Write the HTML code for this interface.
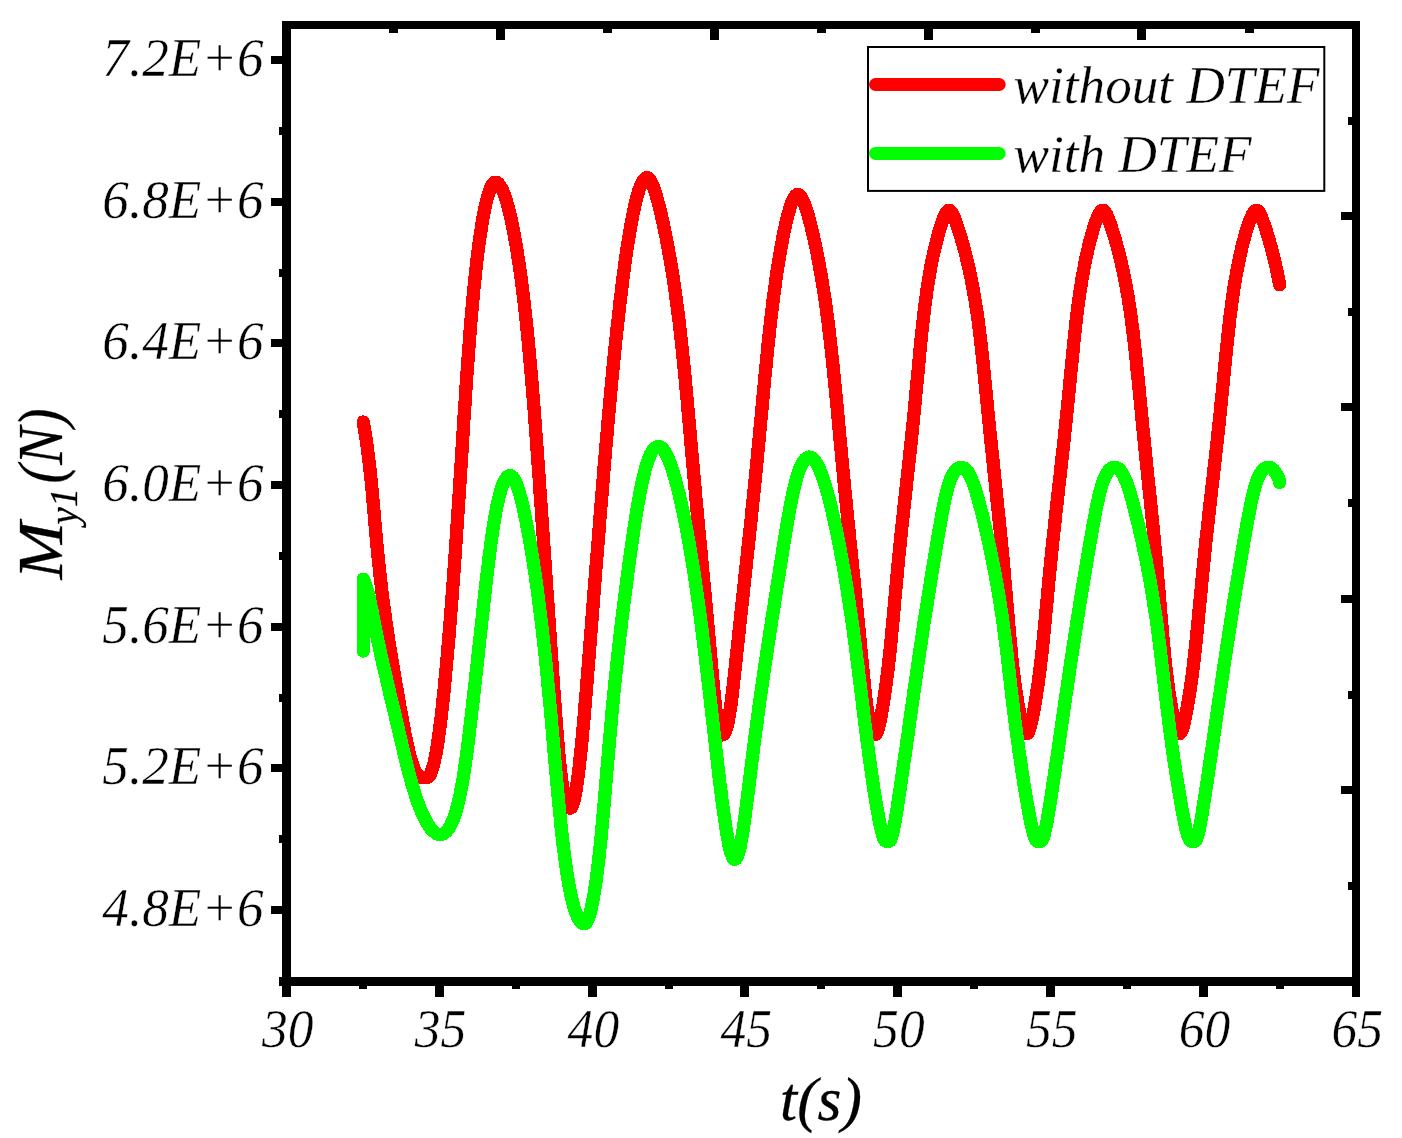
<!DOCTYPE html>
<html lang="en"><head><meta charset="utf-8"><title>My1(N) vs t(s): without DTEF / with DTEF</title>
<style>
html,body{margin:0;padding:0;background:#fff;}
body{width:1402px;height:1138px;overflow:hidden;font-family:"Liberation Serif",serif;}
svg{display:block;}
</style></head><body>
<svg width="1402" height="1138" viewBox="0 0 1402 1138">
<rect width="1402" height="1138" fill="#fff"/>
<rect x="282" y="21" width="1078" height="965" fill="none"/>
<g fill="#000" shape-rendering="crispEdges">
<rect x="282" y="21" width="1078" height="8"/>
<rect x="279" y="977" width="1081" height="9"/>
<rect x="282" y="21" width="9" height="976"/>
<rect x="1352" y="21" width="8" height="976"/>
<rect x="271" y="56.0" width="12" height="8"/>
<rect x="271" y="197.7" width="12" height="8"/>
<rect x="271" y="339.3" width="12" height="8"/>
<rect x="271" y="481.0" width="12" height="8"/>
<rect x="271" y="622.7" width="12" height="8"/>
<rect x="271" y="764.3" width="12" height="8"/>
<rect x="271" y="906.0" width="12" height="8"/>
<rect x="279" y="126.8" width="4" height="8"/>
<rect x="279" y="268.5" width="4" height="8"/>
<rect x="279" y="410.2" width="4" height="8"/>
<rect x="279" y="551.8" width="4" height="8"/>
<rect x="279" y="693.5" width="4" height="8"/>
<rect x="279" y="835.2" width="4" height="8"/>
<rect x="434.8" y="985" width="9" height="12"/>
<rect x="587.6" y="985" width="9" height="12"/>
<rect x="740.4" y="985" width="9" height="12"/>
<rect x="893.1" y="985" width="9" height="12"/>
<rect x="1045.9" y="985" width="9" height="12"/>
<rect x="1198.7" y="985" width="9" height="12"/>
<rect x="358.9" y="985" width="8" height="4"/>
<rect x="511.7" y="985" width="8" height="4"/>
<rect x="664.5" y="985" width="8" height="4"/>
<rect x="817.2" y="985" width="8" height="4"/>
<rect x="970.0" y="985" width="8" height="4"/>
<rect x="1122.8" y="985" width="8" height="4"/>
<rect x="1275.6" y="985" width="8" height="4"/>
<rect x="495.5" y="28" width="9" height="11.5"/>
<rect x="709.7" y="28" width="9" height="11.5"/>
<rect x="923.6" y="28" width="9" height="11.5"/>
<rect x="1137.3" y="28" width="9" height="11.5"/>
<rect x="388.8" y="28" width="9" height="5"/>
<rect x="602.8" y="28" width="9" height="5"/>
<rect x="817.0" y="28" width="9" height="5"/>
<rect x="1030.5" y="28" width="9" height="5"/>
<rect x="1244.5" y="28" width="9" height="5"/>
<rect x="1341" y="212.0" width="12" height="8"/>
<rect x="1341" y="403.4" width="12" height="8"/>
<rect x="1341" y="594.5" width="12" height="8"/>
<rect x="1341" y="786.0" width="12" height="8"/>
<rect x="1348" y="117.0" width="5" height="8"/>
<rect x="1348" y="307.8" width="5" height="8"/>
<rect x="1348" y="499.0" width="5" height="8"/>
<rect x="1348" y="690.5" width="5" height="8"/>
<rect x="1348" y="881.9" width="5" height="8"/>
</g>
<path d="M363.2,422.0 L363.3,422.6 L363.9,425.8 L364.5,429.3 L365.1,433.0 L365.7,436.8 L366.3,440.9 L366.9,445.1 L367.5,449.5 L368.1,454.1 L368.7,458.9 L369.3,463.8 L369.9,468.8 L370.4,474.1 L371.0,479.4 L371.5,484.9 L372.1,490.6 L372.6,496.3 L373.1,502.2 L373.6,508.1 L374.2,514.2 L374.7,520.4 L375.3,526.6 L375.8,533.0 L376.4,539.4 L377.0,545.8 L377.6,552.3 L378.3,558.9 L379.0,565.5 L379.7,572.1 L380.4,578.8 L381.2,585.4 L382.0,592.1 L382.8,598.7 L383.7,605.4 L384.6,612.0 L385.5,618.6 L386.5,625.2 L387.4,631.7 L388.4,638.1 L389.4,644.5 L390.4,650.9 L391.5,657.1 L392.5,663.3 L393.5,669.4 L394.5,675.3 L395.5,681.2 L396.5,686.9 L397.5,692.6 L398.5,698.1 L399.4,703.4 L400.3,708.7 L401.3,713.7 L402.2,718.6 L403.0,723.4 L403.9,728.0 L404.7,732.4 L405.6,736.6 L406.4,740.7 L407.2,744.5 L408.1,748.2 L408.9,751.7 L409.7,754.9 L410.5,758.0 L411.3,760.8 L412.2,763.4 L413.0,765.9 L413.9,768.1 L414.7,770.0 L415.6,771.8 L416.5,773.3 L417.4,774.6 L418.3,775.6 L419.2,776.4 L420.1,777.0 L421.1,777.4 L422.0,777.5 L427.0,777.5 L427.8,777.3 L428.6,776.8 L429.4,775.8 L430.2,774.5 L431.0,772.9 L431.7,770.8 L432.5,768.5 L433.3,765.7 L434.1,762.6 L434.8,759.1 L435.6,755.3 L436.4,751.2 L437.1,746.7 L437.9,741.9 L438.6,736.7 L439.4,731.3 L440.1,725.5 L440.9,719.4 L441.6,713.0 L442.4,706.4 L443.1,699.4 L443.9,692.2 L444.6,684.7 L445.3,676.9 L446.1,668.9 L446.8,660.7 L447.6,652.2 L448.3,643.6 L449.1,634.7 L449.8,625.6 L450.5,616.4 L451.3,607.0 L452.0,597.4 L452.7,587.7 L453.5,577.8 L454.2,567.8 L454.9,557.7 L455.6,547.5 L456.3,537.3 L457.0,526.9 L457.7,516.5 L458.4,506.1 L459.1,495.6 L459.8,485.1 L460.4,474.6 L461.1,464.1 L461.8,453.6 L462.4,443.2 L463.1,432.8 L463.7,422.4 L464.4,412.2 L465.1,402.0 L465.7,391.9 L466.4,381.9 L467.1,372.0 L467.8,362.3 L468.5,352.7 L469.2,343.3 L469.9,334.1 L470.6,325.0 L471.4,316.1 L472.1,307.5 L472.9,299.0 L473.7,290.8 L474.5,282.8 L475.3,275.0 L476.1,267.5 L476.9,260.3 L477.8,253.3 L478.6,246.7 L479.5,240.3 L480.4,234.2 L481.3,228.4 L482.1,223.0 L483.0,217.8 L483.9,213.0 L484.8,208.5 L485.7,204.4 L486.6,200.6 L487.5,197.1 L488.4,194.0 L489.3,191.2 L490.1,188.9 L491.0,186.8 L491.9,185.2 L492.8,183.9 L493.6,182.9 L494.5,182.4 L495.4,182.2 L495.4,182.2 L496.5,182.4 L497.6,183.0 L498.7,184.0 L499.8,185.3 L500.9,187.1 L502.1,189.2 L503.2,191.7 L504.3,194.6 L505.4,197.9 L506.6,201.5 L507.7,205.5 L508.9,209.9 L510.0,214.6 L511.2,219.7 L512.3,225.1 L513.5,230.8 L514.6,236.9 L515.8,243.3 L516.9,250.0 L518.0,257.0 L519.1,264.3 L520.2,271.9 L521.3,279.8 L522.4,288.0 L523.4,296.4 L524.4,305.0 L525.4,313.9 L526.4,323.1 L527.4,332.4 L528.3,341.9 L529.2,351.7 L530.1,361.6 L531.0,371.6 L531.9,381.9 L532.7,392.2 L533.6,402.7 L534.4,413.3 L535.2,424.1 L536.0,434.9 L536.8,445.7 L537.6,456.7 L538.4,467.7 L539.2,478.7 L539.9,489.7 L540.7,500.8 L541.5,511.8 L542.2,522.8 L543.0,533.8 L543.8,544.8 L544.5,555.6 L545.3,566.4 L546.0,577.2 L546.7,587.8 L547.5,598.3 L548.2,608.6 L548.9,618.9 L549.6,628.9 L550.3,638.8 L551.0,648.6 L551.6,658.1 L552.3,667.4 L552.9,676.6 L553.5,685.5 L554.2,694.1 L554.8,702.5 L555.4,710.7 L556.0,718.6 L556.5,726.2 L557.1,733.5 L557.7,740.5 L558.3,747.2 L558.8,753.6 L559.4,759.7 L560.0,765.4 L560.6,770.8 L561.2,775.9 L561.8,780.6 L562.4,785.0 L563.1,789.0 L563.7,792.6 L564.4,795.9 L565.1,798.8 L565.7,801.3 L566.4,803.4 L567.1,805.2 L567.8,806.5 L568.6,807.5 L569.3,808.1 L570.0,808.3 L570.0,808.3 L570.6,808.1 L571.3,807.5 L571.9,806.5 L572.5,805.2 L573.1,803.4 L573.8,801.3 L574.4,798.7 L575.0,795.8 L575.6,792.5 L576.3,788.9 L576.9,784.8 L577.5,780.4 L578.1,775.7 L578.8,770.6 L579.4,765.1 L580.0,759.3 L580.7,753.2 L581.3,746.8 L582.0,740.0 L582.6,732.9 L583.3,725.6 L584.0,717.9 L584.7,710.0 L585.3,701.8 L586.1,693.3 L586.8,684.6 L587.5,675.6 L588.2,666.4 L589.0,657.0 L589.7,647.4 L590.5,637.6 L591.3,627.7 L592.1,617.5 L592.9,607.2 L593.7,596.8 L594.5,586.2 L595.4,575.5 L596.2,564.7 L597.1,553.8 L598.0,542.9 L598.9,531.9 L599.7,520.8 L600.6,509.7 L601.6,498.6 L602.5,487.4 L603.4,476.3 L604.3,465.2 L605.3,454.1 L606.2,443.1 L607.2,432.2 L608.1,421.3 L609.1,410.5 L610.0,399.8 L611.0,389.2 L612.0,378.8 L613.0,368.5 L614.0,358.3 L615.0,348.4 L616.0,338.6 L617.0,329.0 L618.1,319.6 L619.1,310.4 L620.1,301.4 L621.2,292.7 L622.2,284.2 L623.2,276.0 L624.3,268.1 L625.3,260.4 L626.4,253.1 L627.4,246.0 L628.5,239.2 L629.6,232.8 L630.6,226.7 L631.7,220.9 L632.7,215.4 L633.8,210.3 L634.8,205.6 L635.8,201.2 L636.9,197.1 L637.9,193.5 L638.9,190.2 L640.0,187.3 L641.0,184.7 L642.0,182.6 L643.0,180.8 L644.1,179.5 L645.1,178.5 L646.1,177.9 L647.1,177.7 L647.1,177.7 L647.9,177.9 L648.7,178.4 L649.6,179.3 L650.4,180.5 L651.3,182.0 L652.2,183.9 L653.1,186.2 L654.0,188.7 L655.0,191.6 L656.0,194.9 L657.1,198.4 L658.1,202.3 L659.2,206.5 L660.3,211.0 L661.5,215.8 L662.6,221.0 L663.8,226.4 L665.0,232.1 L666.2,238.0 L667.4,244.3 L668.6,250.8 L669.8,257.6 L671.0,264.6 L672.2,271.8 L673.4,279.3 L674.5,287.0 L675.6,294.9 L676.7,303.1 L677.8,311.4 L678.9,319.8 L679.9,328.5 L680.9,337.3 L681.9,346.3 L682.8,355.4 L683.8,364.6 L684.7,374.0 L685.6,383.4 L686.5,392.9 L687.4,402.6 L688.2,412.2 L689.1,422.0 L690.0,431.7 L690.8,441.6 L691.7,451.4 L692.6,461.2 L693.5,471.0 L694.4,480.9 L695.2,490.6 L696.1,500.4 L697.0,510.0 L697.9,519.7 L698.8,529.2 L699.7,538.6 L700.6,548.0 L701.5,557.2 L702.3,566.3 L703.2,575.3 L704.0,584.1 L704.9,592.8 L705.7,601.2 L706.4,609.5 L707.2,617.7 L707.9,625.6 L708.6,633.3 L709.3,640.8 L709.9,648.0 L710.6,655.0 L711.2,661.8 L711.8,668.3 L712.3,674.6 L712.9,680.5 L713.4,686.2 L714.0,691.6 L714.5,696.8 L715.0,701.6 L715.5,706.1 L716.0,710.3 L716.5,714.2 L717.1,717.7 L717.6,721.0 L718.1,723.9 L718.6,726.4 L719.2,728.7 L719.7,730.6 L720.3,732.1 L720.8,733.3 L721.4,734.2 L721.9,734.7 L722.5,734.9 L722.5,734.9 L723.1,734.7 L723.8,734.2 L724.4,733.4 L725.1,732.2 L725.7,730.7 L726.3,728.9 L726.9,726.7 L727.5,724.2 L728.2,721.4 L728.8,718.2 L729.4,714.8 L730.0,711.0 L730.6,706.9 L731.2,702.6 L731.8,697.9 L732.4,692.9 L733.0,687.7 L733.6,682.2 L734.3,676.4 L734.9,670.3 L735.6,664.0 L736.3,657.4 L737.0,650.6 L737.8,643.6 L738.6,636.3 L739.3,628.9 L740.2,621.2 L741.0,613.3 L741.9,605.2 L742.8,597.0 L743.7,588.6 L744.6,580.1 L745.5,571.4 L746.5,562.5 L747.4,553.6 L748.4,544.5 L749.4,535.4 L750.4,526.1 L751.4,516.8 L752.3,507.4 L753.3,498.0 L754.3,488.5 L755.2,479.0 L756.2,469.4 L757.1,459.9 L758.0,450.3 L758.9,440.8 L759.8,431.3 L760.7,421.9 L761.6,412.5 L762.4,403.2 L763.3,393.9 L764.2,384.8 L765.0,375.7 L765.9,366.8 L766.8,357.9 L767.6,349.2 L768.5,340.7 L769.4,332.3 L770.3,324.1 L771.2,316.0 L772.2,308.1 L773.1,300.4 L774.1,293.0 L775.1,285.7 L776.0,278.7 L777.0,271.9 L778.0,265.3 L779.1,259.0 L780.1,252.9 L781.1,247.1 L782.1,241.6 L783.1,236.4 L784.1,231.4 L785.1,226.7 L786.1,222.4 L787.1,218.3 L788.1,214.5 L789.0,211.1 L790.0,207.9 L790.9,205.1 L791.8,202.6 L792.7,200.4 L793.6,198.6 L794.5,197.1 L795.3,195.9 L796.2,195.1 L797.0,194.6 L797.9,194.4 L797.9,194.4 L798.7,194.6 L799.6,195.1 L800.4,195.9 L801.3,197.1 L802.1,198.6 L803.0,200.4 L803.9,202.6 L804.9,205.1 L805.9,207.9 L806.9,211.1 L807.9,214.5 L809.0,218.3 L810.0,222.3 L811.2,226.7 L812.3,231.4 L813.4,236.3 L814.6,241.6 L815.8,247.1 L817.0,252.9 L818.1,259.0 L819.3,265.3 L820.5,271.8 L821.7,278.6 L822.8,285.7 L824.0,292.9 L825.1,300.4 L826.2,308.1 L827.2,315.9 L828.3,324.0 L829.3,332.2 L830.3,340.6 L831.2,349.2 L832.2,357.8 L833.1,366.7 L834.0,375.6 L834.9,384.7 L835.8,393.8 L836.7,403.1 L837.6,412.4 L838.5,421.8 L839.3,431.2 L840.2,440.7 L841.1,450.2 L842.0,459.7 L842.9,469.3 L843.8,478.8 L844.7,488.3 L845.7,497.8 L846.6,507.2 L847.5,516.6 L848.5,525.9 L849.4,535.2 L850.3,544.3 L851.3,553.4 L852.2,562.3 L853.1,571.2 L854.0,579.8 L854.9,588.4 L855.7,596.8 L856.5,605.0 L857.3,613.1 L858.1,620.9 L858.9,628.6 L859.6,636.1 L860.3,643.3 L861.0,650.4 L861.6,657.2 L862.3,663.7 L862.9,670.0 L863.5,676.1 L864.1,681.9 L864.6,687.4 L865.2,692.7 L865.8,697.6 L866.4,702.3 L866.9,706.7 L867.5,710.7 L868.1,714.5 L868.7,717.9 L869.3,721.1 L870.0,723.9 L870.6,726.4 L871.3,728.6 L871.9,730.4 L872.6,731.9 L873.3,733.1 L874.0,733.9 L874.7,734.4 L875.4,734.6 L875.4,734.6 L875.8,734.4 L876.3,733.9 L876.8,733.1 L877.2,732.0 L877.7,730.5 L878.3,728.7 L878.8,726.6 L879.4,724.2 L880.0,721.5 L880.6,718.4 L881.2,715.1 L881.9,711.4 L882.6,707.5 L883.3,703.2 L884.0,698.7 L884.7,693.9 L885.5,688.8 L886.2,683.4 L886.9,677.8 L887.7,671.9 L888.4,665.8 L889.1,659.4 L889.8,652.8 L890.5,646.0 L891.2,639.0 L891.9,631.7 L892.6,624.3 L893.3,616.6 L894.0,608.8 L894.7,600.8 L895.5,592.7 L896.2,584.4 L897.0,575.9 L897.8,567.4 L898.6,558.7 L899.5,549.9 L900.4,541.0 L901.3,532.0 L902.3,523.0 L903.3,513.9 L904.2,504.7 L905.3,495.5 L906.3,486.3 L907.3,477.0 L908.3,467.8 L909.3,458.5 L910.3,449.3 L911.3,440.1 L912.2,430.9 L913.2,421.8 L914.1,412.8 L914.9,403.8 L915.8,394.9 L916.6,386.1 L917.5,377.4 L918.3,368.9 L919.1,360.4 L919.8,352.1 L920.6,344.0 L921.4,336.0 L922.3,328.2 L923.1,320.5 L924.0,313.1 L924.9,305.8 L925.8,298.8 L926.7,292.0 L927.7,285.4 L928.7,279.0 L929.8,272.9 L930.8,267.0 L931.9,261.4 L933.0,256.0 L934.2,250.9 L935.3,246.1 L936.4,241.6 L937.5,237.3 L938.6,233.4 L939.6,229.7 L940.6,226.4 L941.6,223.3 L942.6,220.6 L943.5,218.2 L944.4,216.1 L945.2,214.3 L946.0,212.8 L946.8,211.7 L947.6,210.9 L948.4,210.4 L949.1,210.2 L949.1,210.2 L949.8,210.4 L950.5,210.9 L951.2,211.7 L951.9,212.8 L952.7,214.3 L953.6,216.0 L954.4,218.1 L955.4,220.6 L956.4,223.3 L957.4,226.3 L958.5,229.7 L959.7,233.3 L960.9,237.3 L962.1,241.5 L963.4,246.0 L964.7,250.8 L966.0,255.9 L967.3,261.3 L968.6,266.9 L969.9,272.8 L971.2,278.9 L972.4,285.2 L973.6,291.8 L974.8,298.6 L975.9,305.7 L977.0,312.9 L978.1,320.3 L979.1,328.0 L980.0,335.8 L981.0,343.7 L981.9,351.9 L982.8,360.1 L983.7,368.6 L984.5,377.1 L985.4,385.8 L986.3,394.6 L987.1,403.4 L988.0,412.4 L988.9,421.4 L989.8,430.5 L990.8,439.7 L991.7,448.8 L992.7,458.0 L993.6,467.3 L994.6,476.5 L995.6,485.8 L996.5,495.0 L997.5,504.1 L998.4,513.3 L999.4,522.4 L1000.3,531.4 L1001.2,540.4 L1002.0,549.2 L1002.9,558.0 L1003.7,566.7 L1004.4,575.2 L1005.2,583.7 L1005.9,591.9 L1006.6,600.1 L1007.3,608.0 L1008.0,615.8 L1008.6,623.5 L1009.3,630.9 L1009.9,638.1 L1010.6,645.2 L1011.3,652.0 L1011.9,658.6 L1012.6,664.9 L1013.3,671.0 L1014.0,676.9 L1014.8,682.5 L1015.5,687.9 L1016.2,693.0 L1017.0,697.8 L1017.7,702.3 L1018.4,706.5 L1019.2,710.5 L1019.9,714.1 L1020.6,717.5 L1021.3,720.5 L1022.0,723.2 L1022.7,725.7 L1023.3,727.8 L1024.0,729.5 L1024.6,731.0 L1025.2,732.1 L1025.8,732.9 L1026.4,733.4 L1027.0,733.6 L1027.0,733.6 L1027.5,733.4 L1028.0,732.9 L1028.4,732.1 L1028.9,731.0 L1029.5,729.5 L1030.0,727.8 L1030.6,725.7 L1031.2,723.2 L1031.8,720.5 L1032.4,717.5 L1033.1,714.1 L1033.8,710.5 L1034.5,706.5 L1035.3,702.3 L1036.0,697.8 L1036.7,693.0 L1037.5,687.9 L1038.3,682.5 L1039.0,676.9 L1039.8,671.0 L1040.5,664.9 L1041.2,658.6 L1042.0,652.0 L1042.7,645.2 L1043.4,638.1 L1044.1,630.9 L1044.9,623.5 L1045.6,615.8 L1046.3,608.0 L1047.1,600.1 L1047.8,591.9 L1048.6,583.7 L1049.4,575.2 L1050.2,566.7 L1051.1,558.0 L1052.0,549.2 L1052.9,540.4 L1053.9,531.4 L1054.9,522.4 L1055.8,513.3 L1056.9,504.1 L1057.9,495.0 L1058.9,485.8 L1060.0,476.5 L1061.0,467.3 L1062.0,458.0 L1063.1,448.8 L1064.1,439.7 L1065.0,430.5 L1066.0,421.4 L1066.9,412.4 L1067.8,403.4 L1068.7,394.6 L1069.6,385.8 L1070.4,377.1 L1071.2,368.6 L1072.1,360.1 L1072.9,351.9 L1073.7,343.7 L1074.5,335.8 L1075.4,328.0 L1076.2,320.3 L1077.1,312.9 L1078.0,305.7 L1079.0,298.6 L1080.0,291.8 L1081.0,285.2 L1082.0,278.9 L1083.1,272.8 L1084.2,266.9 L1085.3,261.3 L1086.4,255.9 L1087.6,250.8 L1088.7,246.0 L1089.8,241.5 L1091.0,237.3 L1092.1,233.3 L1093.1,229.7 L1094.2,226.3 L1095.2,223.3 L1096.2,220.6 L1097.1,218.1 L1098.0,216.0 L1098.9,214.3 L1099.7,212.8 L1100.6,211.7 L1101.3,210.9 L1102.1,210.4 L1102.9,210.2 L1102.9,210.2 L1103.6,210.4 L1104.3,210.9 L1105.0,211.7 L1105.7,212.8 L1106.5,214.3 L1107.3,216.0 L1108.1,218.1 L1109.1,220.6 L1110.1,223.3 L1111.1,226.3 L1112.2,229.7 L1113.3,233.3 L1114.5,237.3 L1115.8,241.5 L1117.0,246.0 L1118.3,250.8 L1119.6,255.9 L1120.9,261.3 L1122.2,266.9 L1123.5,272.8 L1124.7,278.9 L1125.9,285.2 L1127.1,291.8 L1128.3,298.6 L1129.4,305.7 L1130.5,312.9 L1131.5,320.3 L1132.5,328.0 L1133.5,335.8 L1134.4,343.7 L1135.3,351.9 L1136.2,360.1 L1137.0,368.6 L1137.9,377.1 L1138.8,385.8 L1139.6,394.6 L1140.5,403.4 L1141.4,412.4 L1142.2,421.4 L1143.1,430.5 L1144.1,439.7 L1145.0,448.8 L1145.9,458.0 L1146.9,467.3 L1147.8,476.5 L1148.8,485.8 L1149.8,495.0 L1150.7,504.1 L1151.6,513.3 L1152.6,522.4 L1153.5,531.4 L1154.3,540.4 L1155.2,549.2 L1156.0,558.0 L1156.8,566.7 L1157.5,575.2 L1158.3,583.7 L1159.0,591.9 L1159.7,600.1 L1160.3,608.0 L1161.0,615.8 L1161.7,623.5 L1162.3,630.9 L1162.9,638.1 L1163.6,645.2 L1164.3,652.0 L1164.9,658.6 L1165.6,664.9 L1166.3,671.0 L1167.0,676.9 L1167.7,682.5 L1168.4,687.9 L1169.1,693.0 L1169.9,697.8 L1170.6,702.3 L1171.3,706.5 L1172.0,710.5 L1172.7,714.1 L1173.4,717.5 L1174.1,720.5 L1174.8,723.2 L1175.5,725.7 L1176.1,727.8 L1176.7,729.5 L1177.3,731.0 L1177.9,732.1 L1178.5,732.9 L1179.1,733.4 L1179.7,733.6 L1179.7,733.6 L1180.2,733.4 L1180.7,732.9 L1181.2,732.1 L1181.7,731.0 L1182.2,729.5 L1182.8,727.8 L1183.4,725.7 L1184.0,723.2 L1184.6,720.5 L1185.3,717.5 L1185.9,714.1 L1186.6,710.5 L1187.4,706.5 L1188.1,702.3 L1188.9,697.8 L1189.6,693.0 L1190.4,687.9 L1191.2,682.5 L1191.9,676.9 L1192.7,671.0 L1193.4,664.9 L1194.2,658.6 L1194.9,652.0 L1195.7,645.2 L1196.4,638.1 L1197.1,630.9 L1197.9,623.5 L1198.6,615.8 L1199.3,608.0 L1200.1,600.1 L1200.9,591.9 L1201.7,583.7 L1202.5,575.2 L1203.3,566.7 L1204.2,558.0 L1205.1,549.2 L1206.0,540.4 L1207.0,531.4 L1208.0,522.4 L1209.0,513.3 L1210.0,504.1 L1211.1,495.0 L1212.1,485.8 L1213.2,476.5 L1214.2,467.3 L1215.3,458.0 L1216.3,448.8 L1217.3,439.7 L1218.3,430.5 L1219.3,421.4 L1220.2,412.4 L1221.1,403.4 L1222.0,394.6 L1222.9,385.8 L1223.7,377.1 L1224.6,368.6 L1225.4,360.1 L1226.2,351.9 L1227.1,343.7 L1227.9,335.8 L1228.8,328.0 L1229.6,320.3 L1230.5,312.9 L1231.5,305.7 L1232.4,298.6 L1233.4,291.8 L1234.4,285.2 L1235.5,278.9 L1236.6,272.8 L1237.7,266.9 L1238.8,261.3 L1239.9,255.9 L1241.1,250.8 L1242.2,246.0 L1243.4,241.5 L1244.5,237.3 L1245.6,233.3 L1246.7,229.7 L1247.8,226.3 L1248.8,223.3 L1249.8,220.6 L1250.7,218.1 L1251.7,216.0 L1252.5,214.3 L1253.4,212.8 L1254.2,211.7 L1255.0,210.9 L1255.8,210.4 L1256.6,210.2 L1256.6,210.2 L1257.3,210.4 L1258.0,210.9 L1258.7,211.7 L1259.4,212.8 L1260.2,214.3 L1261.0,216.0 L1261.9,218.1 L1262.8,220.6 L1263.8,223.3 L1264.9,226.3 L1266.0,229.7 L1267.1,233.3 L1268.3,237.3 L1269.5,241.5 L1270.8,246.0 L1272.1,250.8 L1273.4,255.9 L1274.7,261.3 L1276.0,266.9 L1277.3,272.8 L1278.6,278.9 L1279.6,284.8" fill="none" stroke="#ff0000" stroke-width="13.3" stroke-linejoin="round" stroke-linecap="round" shape-rendering="crispEdges"/>
<path d="M363.2,651.0 L363.2,579.2 L363.5,579.8 L364.3,581.7 L365.1,583.7 L365.9,585.8 L366.7,588.1 L367.4,590.5 L368.1,593.1 L368.8,595.8 L369.4,598.6 L370.1,601.6 L370.7,604.7 L371.4,607.9 L372.1,611.2 L372.7,614.7 L373.4,618.2 L374.1,621.9 L374.9,625.7 L375.6,629.5 L376.4,633.4 L377.2,637.5 L378.1,641.6 L379.0,645.8 L379.9,650.0 L380.8,654.3 L381.8,658.7 L382.8,663.2 L383.8,667.6 L384.9,672.2 L386.0,676.7 L387.0,681.3 L388.1,686.0 L389.2,690.6 L390.3,695.3 L391.4,699.9 L392.5,704.6 L393.7,709.2 L394.8,713.9 L395.8,718.5 L396.9,723.2 L398.0,727.8 L399.1,732.3 L400.1,736.9 L401.2,741.3 L402.2,745.8 L403.3,750.2 L404.3,754.5 L405.3,758.7 L406.4,762.9 L407.4,767.0 L408.4,771.1 L409.5,775.0 L410.5,778.8 L411.6,782.6 L412.6,786.3 L413.7,789.8 L414.8,793.3 L415.8,796.6 L416.9,799.8 L418.0,802.9 L419.1,805.9 L420.2,808.7 L421.4,811.4 L422.5,814.0 L423.6,816.4 L424.7,818.7 L425.9,820.8 L427.0,822.8 L428.1,824.7 L429.2,826.3 L430.3,827.9 L431.5,829.3 L432.6,830.5 L433.7,831.5 L434.8,832.4 L435.9,833.2 L436.9,833.8 L438.0,834.2 L439.1,834.4 L440.2,834.5 L440.2,834.5 L441.4,834.4 L442.6,834.1 L443.7,833.5 L444.9,832.7 L446.0,831.7 L447.2,830.5 L448.3,829.0 L449.4,827.4 L450.5,825.5 L451.5,823.4 L452.6,821.1 L453.6,818.6 L454.6,815.9 L455.5,813.0 L456.4,809.9 L457.3,806.6 L458.2,803.1 L459.1,799.5 L459.9,795.6 L460.7,791.6 L461.5,787.4 L462.3,783.0 L463.1,778.5 L463.8,773.8 L464.5,769.0 L465.3,764.1 L466.0,759.0 L466.7,753.7 L467.4,748.4 L468.1,742.9 L468.8,737.3 L469.5,731.7 L470.1,725.9 L470.8,720.0 L471.5,714.1 L472.2,708.1 L472.9,702.0 L473.6,695.8 L474.3,689.6 L475.0,683.4 L475.7,677.1 L476.4,670.8 L477.1,664.5 L477.8,658.2 L478.4,651.8 L479.1,645.5 L479.8,639.2 L480.5,632.9 L481.2,626.6 L481.9,620.4 L482.6,614.2 L483.2,608.0 L483.9,601.9 L484.6,595.9 L485.2,590.0 L485.9,584.1 L486.6,578.3 L487.2,572.7 L487.9,567.1 L488.6,561.6 L489.2,556.3 L489.9,551.0 L490.6,545.9 L491.2,541.0 L491.9,536.2 L492.6,531.5 L493.3,527.0 L494.0,522.6 L494.7,518.4 L495.4,514.4 L496.1,510.5 L496.8,506.9 L497.5,503.4 L498.3,500.1 L499.0,497.0 L499.8,494.1 L500.5,491.4 L501.3,488.9 L502.1,486.6 L502.8,484.5 L503.6,482.6 L504.4,481.0 L505.2,479.5 L506.0,478.3 L506.8,477.3 L507.6,476.5 L508.4,475.9 L509.2,475.6 L510.0,475.5 L510.0,475.5 L510.8,475.6 L511.6,476.1 L512.4,476.8 L513.3,477.7 L514.1,479.0 L514.9,480.5 L515.8,482.3 L516.6,484.4 L517.5,486.7 L518.3,489.3 L519.2,492.2 L520.1,495.3 L521.0,498.7 L521.9,502.3 L522.9,506.2 L523.8,510.3 L524.7,514.7 L525.7,519.2 L526.6,524.1 L527.6,529.1 L528.6,534.3 L529.5,539.8 L530.5,545.4 L531.5,551.2 L532.5,557.3 L533.4,563.5 L534.4,569.8 L535.4,576.4 L536.3,583.0 L537.3,589.9 L538.2,596.8 L539.1,603.9 L540.0,611.1 L540.9,618.5 L541.8,625.9 L542.7,633.4 L543.5,641.0 L544.4,648.7 L545.2,656.4 L546.0,664.2 L546.8,672.0 L547.6,679.9 L548.3,687.8 L549.1,695.7 L549.8,703.6 L550.6,711.5 L551.3,719.4 L552.0,727.3 L552.7,735.1 L553.4,742.9 L554.0,750.6 L554.7,758.3 L555.4,765.9 L556.0,773.4 L556.7,780.8 L557.4,788.2 L558.0,795.4 L558.7,802.5 L559.4,809.4 L560.1,816.3 L560.7,822.9 L561.4,829.5 L562.1,835.8 L562.8,842.0 L563.5,848.1 L564.3,853.9 L565.0,859.5 L565.8,865.0 L566.5,870.2 L567.3,875.2 L568.1,880.1 L568.9,884.6 L569.7,889.0 L570.5,893.1 L571.4,897.0 L572.2,900.6 L573.1,904.0 L574.0,907.1 L574.9,910.0 L575.8,912.6 L576.7,914.9 L577.6,917.0 L578.6,918.8 L579.5,920.3 L580.5,921.6 L581.4,922.5 L582.4,923.2 L583.3,923.7 L584.3,923.8 L584.3,923.8 L585.0,923.7 L585.6,923.2 L586.3,922.5 L587.0,921.4 L587.7,920.1 L588.3,918.5 L589.0,916.6 L589.7,914.3 L590.4,911.9 L591.1,909.1 L591.8,906.0 L592.4,902.7 L593.1,899.1 L593.8,895.2 L594.5,891.1 L595.2,886.7 L595.9,882.1 L596.5,877.2 L597.2,872.1 L597.9,866.8 L598.5,861.2 L599.2,855.4 L599.8,849.4 L600.5,843.2 L601.1,836.8 L601.7,830.2 L602.4,823.4 L603.0,816.4 L603.6,809.3 L604.3,802.0 L604.9,794.6 L605.5,787.1 L606.2,779.4 L606.8,771.6 L607.5,763.7 L608.2,755.7 L608.9,747.6 L609.6,739.4 L610.3,731.2 L611.1,722.9 L611.8,714.6 L612.6,706.2 L613.4,697.8 L614.2,689.4 L615.1,680.9 L616.0,672.5 L616.9,664.1 L617.8,655.7 L618.7,647.4 L619.6,639.1 L620.6,630.9 L621.5,622.7 L622.5,614.6 L623.5,606.6 L624.5,598.7 L625.5,590.9 L626.5,583.2 L627.4,575.7 L628.4,568.3 L629.4,561.0 L630.4,553.9 L631.4,546.9 L632.3,540.1 L633.3,533.5 L634.2,527.1 L635.2,520.9 L636.1,514.9 L637.1,509.1 L638.0,503.5 L639.0,498.2 L639.9,493.1 L640.9,488.2 L641.8,483.6 L642.8,479.2 L643.8,475.1 L644.7,471.2 L645.7,467.6 L646.7,464.3 L647.7,461.2 L648.8,458.4 L649.8,456.0 L650.8,453.7 L651.9,451.8 L653.0,450.2 L654.0,448.9 L655.1,447.8 L656.2,447.1 L657.3,446.6 L658.4,446.5 L658.4,446.5 L659.4,446.6 L660.4,447.0 L661.4,447.7 L662.4,448.6 L663.4,449.7 L664.4,451.1 L665.4,452.8 L666.4,454.7 L667.5,456.8 L668.5,459.2 L669.6,461.9 L670.6,464.7 L671.7,467.9 L672.8,471.2 L673.9,474.8 L675.0,478.6 L676.1,482.6 L677.2,486.8 L678.3,491.2 L679.5,495.8 L680.6,500.7 L681.7,505.7 L682.8,510.9 L684.0,516.2 L685.1,521.8 L686.2,527.5 L687.3,533.4 L688.4,539.4 L689.5,545.5 L690.6,551.8 L691.7,558.2 L692.7,564.8 L693.8,571.4 L694.8,578.1 L695.8,585.0 L696.8,591.9 L697.8,598.9 L698.8,606.0 L699.8,613.1 L700.7,620.3 L701.7,627.5 L702.6,634.7 L703.5,642.0 L704.4,649.3 L705.3,656.5 L706.1,663.8 L707.0,671.1 L707.8,678.3 L708.7,685.5 L709.5,692.7 L710.3,699.8 L711.1,706.9 L711.9,713.9 L712.7,720.8 L713.5,727.7 L714.2,734.4 L715.0,741.0 L715.7,747.6 L716.5,754.0 L717.2,760.3 L717.9,766.4 L718.6,772.4 L719.3,778.3 L720.0,784.0 L720.7,789.6 L721.4,794.9 L722.0,800.1 L722.7,805.1 L723.3,810.0 L724.0,814.6 L724.6,819.0 L725.2,823.2 L725.8,827.2 L726.4,831.0 L727.0,834.6 L727.6,837.9 L728.2,841.1 L728.8,843.9 L729.3,846.6 L729.9,849.0 L730.5,851.1 L731.0,853.0 L731.6,854.7 L732.1,856.1 L732.7,857.2 L733.2,858.1 L733.7,858.8 L734.3,859.2 L734.8,859.3 L734.8,859.3 L735.3,859.2 L735.8,858.8 L736.4,858.2 L736.9,857.3 L737.4,856.2 L737.9,854.8 L738.5,853.2 L739.0,851.3 L739.5,849.2 L740.1,846.9 L740.6,844.3 L741.1,841.5 L741.7,838.5 L742.2,835.2 L742.8,831.8 L743.4,828.1 L743.9,824.2 L744.5,820.1 L745.1,815.7 L745.7,811.2 L746.3,806.5 L746.9,801.6 L747.6,796.6 L748.2,791.3 L748.9,785.9 L749.6,780.4 L750.3,774.7 L751.0,768.8 L751.7,762.8 L752.5,756.7 L753.3,750.4 L754.1,744.1 L754.9,737.6 L755.8,731.0 L756.7,724.4 L757.6,717.6 L758.5,710.8 L759.4,703.9 L760.4,697.0 L761.4,690.0 L762.4,683.0 L763.4,675.9 L764.4,668.8 L765.5,661.7 L766.5,654.7 L767.6,647.6 L768.7,640.5 L769.8,633.4 L770.8,626.4 L771.9,619.4 L773.0,612.5 L774.1,605.6 L775.1,598.8 L776.2,592.0 L777.2,585.4 L778.3,578.8 L779.3,572.3 L780.3,566.0 L781.3,559.7 L782.3,553.6 L783.2,547.6 L784.2,541.7 L785.1,536.0 L786.0,530.5 L786.9,525.1 L787.8,519.8 L788.7,514.8 L789.6,509.9 L790.5,505.2 L791.4,500.7 L792.2,496.3 L793.1,492.2 L794.0,488.3 L794.9,484.6 L795.8,481.2 L796.7,477.9 L797.6,474.9 L798.5,472.1 L799.4,469.5 L800.4,467.2 L801.3,465.1 L802.3,463.2 L803.3,461.6 L804.3,460.2 L805.3,459.1 L806.3,458.2 L807.3,457.6 L808.3,457.2 L809.3,457.1 L809.3,457.1 L810.3,457.2 L811.3,457.6 L812.3,458.2 L813.3,459.0 L814.3,460.1 L815.3,461.4 L816.3,462.9 L817.3,464.7 L818.3,466.7 L819.3,468.9 L820.4,471.4 L821.4,474.1 L822.5,477.0 L823.5,480.1 L824.6,483.4 L825.7,486.9 L826.8,490.7 L827.9,494.6 L829.0,498.7 L830.1,503.0 L831.2,507.5 L832.3,512.2 L833.4,517.0 L834.5,522.0 L835.7,527.2 L836.8,532.5 L837.9,537.9 L839.0,543.5 L840.1,549.3 L841.2,555.1 L842.3,561.1 L843.4,567.2 L844.5,573.3 L845.5,579.6 L846.6,586.0 L847.6,592.4 L848.6,598.9 L849.6,605.5 L850.6,612.1 L851.6,618.8 L852.5,625.5 L853.5,632.3 L854.4,639.0 L855.3,645.8 L856.2,652.6 L857.0,659.4 L857.9,666.1 L858.7,672.9 L859.5,679.6 L860.4,686.3 L861.2,692.9 L862.0,699.5 L862.8,706.0 L863.5,712.4 L864.3,718.8 L865.1,725.1 L865.9,731.2 L866.6,737.3 L867.4,743.3 L868.2,749.1 L868.9,754.9 L869.7,760.5 L870.5,765.9 L871.2,771.2 L872.0,776.4 L872.7,781.4 L873.4,786.2 L874.1,790.9 L874.9,795.4 L875.5,799.7 L876.2,803.8 L876.9,807.7 L877.6,811.5 L878.2,815.0 L878.8,818.3 L879.4,821.4 L880.0,824.3 L880.6,827.0 L881.2,829.5 L881.7,831.7 L882.2,833.7 L882.7,835.5 L883.2,837.0 L883.7,838.3 L884.2,839.4 L884.6,840.2 L885.1,840.8 L885.6,841.2 L886.0,841.3 L889.0,841.3 L889.4,841.2 L889.9,840.8 L890.3,840.3 L890.7,839.4 L891.2,838.4 L891.6,837.1 L892.0,835.6 L892.5,833.9 L893.0,831.9 L893.4,829.8 L893.9,827.4 L894.4,824.8 L894.9,822.0 L895.4,818.9 L896.0,815.7 L896.5,812.3 L897.1,808.7 L897.7,804.8 L898.3,800.8 L898.9,796.6 L899.6,792.3 L900.3,787.7 L901.0,783.0 L901.7,778.2 L902.4,773.1 L903.1,768.0 L903.9,762.7 L904.7,757.2 L905.5,751.7 L906.3,746.0 L907.1,740.2 L908.0,734.2 L908.8,728.2 L909.7,722.1 L910.5,715.9 L911.4,709.7 L912.3,703.3 L913.2,696.9 L914.1,690.5 L915.1,684.0 L916.0,677.5 L916.9,670.9 L917.9,664.3 L918.8,657.7 L919.8,651.2 L920.8,644.6 L921.8,638.0 L922.7,631.4 L923.7,624.9 L924.7,618.4 L925.7,612.0 L926.8,605.6 L927.8,599.2 L928.8,593.0 L929.8,586.8 L930.7,580.7 L931.7,574.7 L932.7,568.7 L933.7,562.9 L934.6,557.2 L935.5,551.7 L936.4,546.2 L937.3,540.9 L938.2,535.8 L939.0,530.7 L939.9,525.9 L940.7,521.2 L941.5,516.6 L942.3,512.3 L943.1,508.1 L943.9,504.1 L944.7,500.2 L945.5,496.6 L946.3,493.2 L947.2,490.0 L948.0,486.9 L948.8,484.1 L949.7,481.5 L950.6,479.1 L951.5,477.0 L952.4,475.0 L953.4,473.3 L954.3,471.8 L955.3,470.5 L956.3,469.5 L957.3,468.6 L958.3,468.1 L959.4,467.7 L960.4,467.6 L962.0,467.6 L963.0,467.7 L963.9,468.1 L964.9,468.6 L965.8,469.5 L966.8,470.5 L967.8,471.8 L968.7,473.3 L969.7,475.0 L970.6,477.0 L971.6,479.1 L972.5,481.5 L973.5,484.1 L974.5,486.9 L975.4,490.0 L976.4,493.2 L977.4,496.6 L978.5,500.2 L979.5,504.1 L980.5,508.1 L981.6,512.3 L982.7,516.6 L983.8,521.2 L984.9,525.9 L986.0,530.7 L987.2,535.8 L988.3,540.9 L989.5,546.2 L990.6,551.7 L991.8,557.2 L992.9,562.9 L994.1,568.7 L995.2,574.7 L996.3,580.7 L997.4,586.8 L998.4,593.0 L999.5,599.2 L1000.5,605.6 L1001.4,612.0 L1002.4,618.4 L1003.3,624.9 L1004.2,631.4 L1005.0,638.0 L1005.9,644.6 L1006.7,651.2 L1007.5,657.7 L1008.2,664.3 L1009.0,670.9 L1009.8,677.5 L1010.5,684.0 L1011.3,690.5 L1012.0,696.9 L1012.8,703.3 L1013.5,709.7 L1014.3,715.9 L1015.1,722.1 L1015.9,728.2 L1016.7,734.2 L1017.5,740.2 L1018.3,746.0 L1019.1,751.7 L1019.9,757.2 L1020.7,762.7 L1021.5,768.0 L1022.3,773.1 L1023.1,778.2 L1023.8,783.0 L1024.6,787.7 L1025.3,792.3 L1026.1,796.6 L1026.8,800.8 L1027.5,804.8 L1028.2,808.7 L1028.8,812.3 L1029.5,815.7 L1030.1,818.9 L1030.7,822.0 L1031.3,824.8 L1031.9,827.4 L1032.4,829.8 L1033.0,831.9 L1033.5,833.9 L1034.1,835.6 L1034.6,837.1 L1035.1,838.4 L1035.6,839.4 L1036.2,840.3 L1036.7,840.8 L1037.2,841.2 L1037.7,841.3 L1040.7,841.3 L1041.1,841.2 L1041.6,840.8 L1042.0,840.3 L1042.5,839.4 L1043.0,838.4 L1043.4,837.1 L1043.9,835.6 L1044.4,833.9 L1044.8,831.9 L1045.3,829.8 L1045.8,827.4 L1046.4,824.8 L1046.9,822.0 L1047.4,818.9 L1048.0,815.7 L1048.6,812.3 L1049.2,808.7 L1049.8,804.8 L1050.4,800.8 L1051.1,796.6 L1051.7,792.3 L1052.4,787.7 L1053.1,783.0 L1053.9,778.2 L1054.6,773.1 L1055.4,768.0 L1056.2,762.7 L1057.0,757.2 L1057.8,751.7 L1058.6,746.0 L1059.5,740.2 L1060.4,734.2 L1061.2,728.2 L1062.1,722.1 L1063.0,715.9 L1063.9,709.7 L1064.8,703.3 L1065.7,696.9 L1066.7,690.5 L1067.6,684.0 L1068.6,677.5 L1069.5,670.9 L1070.5,664.3 L1071.5,657.7 L1072.5,651.2 L1073.5,644.6 L1074.5,638.0 L1075.5,631.4 L1076.5,624.9 L1077.5,618.4 L1078.5,612.0 L1079.6,605.6 L1080.6,599.2 L1081.6,593.0 L1082.6,586.8 L1083.6,580.7 L1084.6,574.7 L1085.6,568.7 L1086.6,562.9 L1087.6,557.2 L1088.5,551.7 L1089.4,546.2 L1090.4,540.9 L1091.3,535.8 L1092.1,530.7 L1093.0,525.9 L1093.8,521.2 L1094.7,516.6 L1095.5,512.3 L1096.3,508.1 L1097.1,504.1 L1098.0,500.2 L1098.8,496.6 L1099.6,493.2 L1100.5,490.0 L1101.3,486.9 L1102.2,484.1 L1103.1,481.5 L1104.0,479.1 L1104.9,477.0 L1105.8,475.0 L1106.8,473.3 L1107.8,471.8 L1108.8,470.5 L1109.8,469.5 L1110.8,468.6 L1111.9,468.1 L1112.9,467.7 L1114.0,467.6 L1115.6,467.6 L1116.6,467.7 L1117.5,468.1 L1118.5,468.6 L1119.5,469.5 L1120.4,470.5 L1121.4,471.8 L1122.3,473.3 L1123.3,475.0 L1124.2,477.0 L1125.2,479.1 L1126.2,481.5 L1127.1,484.1 L1128.1,486.9 L1129.1,490.0 L1130.1,493.2 L1131.1,496.6 L1132.1,500.2 L1133.1,504.1 L1134.2,508.1 L1135.3,512.3 L1136.3,516.6 L1137.4,521.2 L1138.6,525.9 L1139.7,530.7 L1140.8,535.8 L1142.0,540.9 L1143.1,546.2 L1144.3,551.7 L1145.5,557.2 L1146.6,562.9 L1147.7,568.7 L1148.9,574.7 L1150.0,580.7 L1151.0,586.8 L1152.1,593.0 L1153.1,599.2 L1154.1,605.6 L1155.1,612.0 L1156.1,618.4 L1157.0,624.9 L1157.9,631.4 L1158.7,638.0 L1159.6,644.6 L1160.4,651.2 L1161.2,657.7 L1161.9,664.3 L1162.7,670.9 L1163.5,677.5 L1164.2,684.0 L1165.0,690.5 L1165.7,696.9 L1166.5,703.3 L1167.3,709.7 L1168.0,715.9 L1168.8,722.1 L1169.6,728.2 L1170.4,734.2 L1171.2,740.2 L1172.0,746.0 L1172.8,751.7 L1173.6,757.2 L1174.4,762.7 L1175.2,768.0 L1176.0,773.1 L1176.8,778.2 L1177.6,783.0 L1178.3,787.7 L1179.1,792.3 L1179.8,796.6 L1180.5,800.8 L1181.2,804.8 L1181.9,808.7 L1182.6,812.3 L1183.2,815.7 L1183.9,818.9 L1184.5,822.0 L1185.1,824.8 L1185.6,827.4 L1186.2,829.8 L1186.8,831.9 L1187.3,833.9 L1187.8,835.6 L1188.4,837.1 L1188.9,838.4 L1189.4,839.4 L1190.0,840.3 L1190.5,840.8 L1191.0,841.2 L1191.5,841.3 L1194.5,841.3 L1194.9,841.2 L1195.4,840.8 L1195.8,840.3 L1196.3,839.4 L1196.7,838.4 L1197.2,837.1 L1197.7,835.6 L1198.1,833.9 L1198.6,831.9 L1199.1,829.8 L1199.6,827.4 L1200.1,824.8 L1200.7,822.0 L1201.2,818.9 L1201.8,815.7 L1202.3,812.3 L1202.9,808.7 L1203.5,804.8 L1204.2,800.8 L1204.8,796.6 L1205.5,792.3 L1206.2,787.7 L1206.9,783.0 L1207.6,778.2 L1208.4,773.1 L1209.1,768.0 L1209.9,762.7 L1210.7,757.2 L1211.5,751.7 L1212.4,746.0 L1213.2,740.2 L1214.1,734.2 L1214.9,728.2 L1215.8,722.1 L1216.7,715.9 L1217.6,709.7 L1218.5,703.3 L1219.4,696.9 L1220.4,690.5 L1221.3,684.0 L1222.3,677.5 L1223.2,670.9 L1224.2,664.3 L1225.2,657.7 L1226.2,651.2 L1227.2,644.6 L1228.2,638.0 L1229.2,631.4 L1230.2,624.9 L1231.2,618.4 L1232.2,612.0 L1233.2,605.6 L1234.3,599.2 L1235.3,593.0 L1236.3,586.8 L1237.3,580.7 L1238.3,574.7 L1239.3,568.7 L1240.3,562.9 L1241.2,557.2 L1242.2,551.7 L1243.1,546.2 L1244.0,540.9 L1244.9,535.8 L1245.8,530.7 L1246.6,525.9 L1247.5,521.2 L1248.3,516.6 L1249.2,512.3 L1250.0,508.1 L1250.8,504.1 L1251.6,500.2 L1252.4,496.6 L1253.3,493.2 L1254.1,490.0 L1254.9,486.9 L1255.8,484.1 L1256.7,481.5 L1257.6,479.1 L1258.5,477.0 L1259.5,475.0 L1260.4,473.3 L1261.4,471.8 L1262.4,470.5 L1263.4,469.5 L1264.5,468.6 L1265.5,468.1 L1266.5,467.7 L1267.6,467.6 L1269.2,467.6 L1270.2,467.7 L1271.1,468.1 L1272.1,468.6 L1273.1,469.5 L1274.1,470.5 L1275.0,471.8 L1276.0,473.3 L1277.0,475.0 L1277.9,477.0 L1278.9,479.1 L1279.6,482.4" fill="none" stroke="#00ff00" stroke-width="13.3" stroke-linejoin="round" stroke-linecap="round" shape-rendering="crispEdges"/>
<rect x="868" y="47" width="456.3" height="143.9" fill="#fff" stroke="#000" stroke-width="2"/>
<line x1="875.5" y1="84.5" x2="999.2" y2="84.5" stroke="#ff0000" stroke-width="13" stroke-linecap="round"/>
<line x1="875.5" y1="153.4" x2="999.2" y2="153.4" stroke="#00ff00" stroke-width="13" stroke-linecap="round"/>
<text transform="translate(1013.5,103.0) scale(1.004,1)" font-size="53" text-anchor="start" font-family="Liberation Serif, serif" font-style="italic" fill="#000" stroke="#fff" stroke-width="0.3">without DTEF</text>
<text transform="translate(1013.5,171.9) scale(1.004,1)" font-size="53" text-anchor="start" font-family="Liberation Serif, serif" font-style="italic" fill="#000" stroke="#fff" stroke-width="0.3">with DTEF</text>
<text transform="translate(263.6,76.0) scale(0.975,1)" font-size="54.5" text-anchor="end" font-family="Liberation Serif, serif" font-style="italic" fill="#000" stroke="#fff" stroke-width="0.4">7.2E+6</text>
<text transform="translate(263.6,217.7) scale(0.975,1)" font-size="54.5" text-anchor="end" font-family="Liberation Serif, serif" font-style="italic" fill="#000" stroke="#fff" stroke-width="0.4">6.8E+6</text>
<text transform="translate(263.6,359.3) scale(0.975,1)" font-size="54.5" text-anchor="end" font-family="Liberation Serif, serif" font-style="italic" fill="#000" stroke="#fff" stroke-width="0.4">6.4E+6</text>
<text transform="translate(263.6,501.0) scale(0.975,1)" font-size="54.5" text-anchor="end" font-family="Liberation Serif, serif" font-style="italic" fill="#000" stroke="#fff" stroke-width="0.4">6.0E+6</text>
<text transform="translate(263.6,642.7) scale(0.975,1)" font-size="54.5" text-anchor="end" font-family="Liberation Serif, serif" font-style="italic" fill="#000" stroke="#fff" stroke-width="0.4">5.6E+6</text>
<text transform="translate(263.6,784.3) scale(0.975,1)" font-size="54.5" text-anchor="end" font-family="Liberation Serif, serif" font-style="italic" fill="#000" stroke="#fff" stroke-width="0.4">5.2E+6</text>
<text transform="translate(263.6,926.0) scale(0.975,1)" font-size="54.5" text-anchor="end" font-family="Liberation Serif, serif" font-style="italic" fill="#000" stroke="#fff" stroke-width="0.4">4.8E+6</text>
<text transform="translate(287.8,1047.2) scale(0.955,1)" font-size="54" text-anchor="middle" font-family="Liberation Serif, serif" font-style="italic" fill="#000" stroke="#fff" stroke-width="0.4">30</text>
<text transform="translate(440.6,1047.2) scale(0.955,1)" font-size="54" text-anchor="middle" font-family="Liberation Serif, serif" font-style="italic" fill="#000" stroke="#fff" stroke-width="0.4">35</text>
<text transform="translate(593.4,1047.2) scale(0.955,1)" font-size="54" text-anchor="middle" font-family="Liberation Serif, serif" font-style="italic" fill="#000" stroke="#fff" stroke-width="0.4">40</text>
<text transform="translate(746.2,1047.2) scale(0.955,1)" font-size="54" text-anchor="middle" font-family="Liberation Serif, serif" font-style="italic" fill="#000" stroke="#fff" stroke-width="0.4">45</text>
<text transform="translate(898.9,1047.2) scale(0.955,1)" font-size="54" text-anchor="middle" font-family="Liberation Serif, serif" font-style="italic" fill="#000" stroke="#fff" stroke-width="0.4">50</text>
<text transform="translate(1051.7,1047.2) scale(0.955,1)" font-size="54" text-anchor="middle" font-family="Liberation Serif, serif" font-style="italic" fill="#000" stroke="#fff" stroke-width="0.4">55</text>
<text transform="translate(1204.5,1047.2) scale(0.955,1)" font-size="54" text-anchor="middle" font-family="Liberation Serif, serif" font-style="italic" fill="#000" stroke="#fff" stroke-width="0.4">60</text>
<text transform="translate(1357.3,1047.2) scale(0.955,1)" font-size="54" text-anchor="middle" font-family="Liberation Serif, serif" font-style="italic" fill="#000" stroke="#fff" stroke-width="0.4">65</text>
<text transform="translate(821.0,1119.6) scale(0.99,1)" font-size="62" text-anchor="middle" font-family="Liberation Serif, serif" font-style="italic" fill="#000" stroke="#000" stroke-width="0.3">t(s)</text>
<text transform="translate(61.8,579.5) rotate(-90) scale(1.08,1)" font-size="64" text-anchor="start" font-family="Liberation Serif, serif" font-style="italic" fill="#000" stroke="#000" stroke-width="0.3">M</text>
<text transform="translate(77.3,524.5) rotate(-90) scale(0.97,1)" font-size="40" text-anchor="start" font-family="Liberation Serif, serif" font-style="italic" fill="#000" stroke="#000" stroke-width="0.3">y1</text>
<text transform="translate(61.8,483.5) rotate(-90) scale(0.88,1)" font-size="64" text-anchor="start" font-family="Liberation Serif, serif" font-style="italic" fill="#000" stroke="#000" stroke-width="0.3">(N)</text>
</svg>
</body></html>
